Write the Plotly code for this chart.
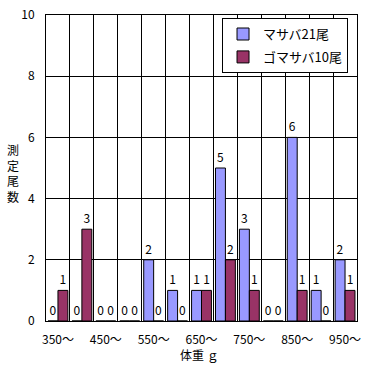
import plotly.graph_objects as go

categories = ["350～", "400～", "450～", "500～", "550～", "600～", "650～",
              "700～", "750～", "800～", "850～", "900～", "950～"]
masaba = [0, 0, 0, 0, 2, 1, 1, 5, 3, 0, 6, 1, 2]
gomasaba = [1, 3, 0, 0, 0, 0, 1, 2, 1, 0, 1, 0, 1]
series_names = ["マサバ21尾", "ゴマサバ10尾"]
y_ticks = [0, 2, 4, 6, 8, 10]
y_title = "測<br>定<br>尾<br>数"
x_title = "体重 ｇ"

x = list(range(len(categories)))
FONT = "Noto Sans CJK JP"

fig = go.Figure()
fig.add_trace(go.Bar(
    x=x, y=masaba, name=series_names[0], legendgroup="a",
    marker=dict(color="#9999FF", line=dict(color="black", width=1)),
    text=[str(v) for v in masaba], textposition="outside",
    textfont=dict(size=12, color="black", family=FONT), cliponaxis=False,
    hoverinfo="skip",
))
fig.add_trace(go.Bar(
    x=x, y=gomasaba, name=series_names[1], legendgroup="b",
    marker=dict(color="#993366", line=dict(color="black", width=1)),
    text=[str(v) for v in gomasaba], textposition="outside",
    textfont=dict(size=12, color="black", family=FONT), cliponaxis=False,
    hoverinfo="skip",
))

annots = [
    dict(text=y_title, xref="paper", yref="paper",
         x=-0.106, y=0.485, xanchor="center", yanchor="middle",
         showarrow=False, font=dict(size=12, family=FONT)),
    dict(text=x_title, xref="paper", yref="paper",
         x=0.492, y=-0.108, xanchor="center", yanchor="middle",
         showarrow=False, font=dict(size=12, family=FONT)),
]

fig.update_layout(
    width=375, height=366,
    margin=dict(l=46, r=18, t=15, b=45, autoexpand=False),
    paper_bgcolor="white", plot_bgcolor="white",
    font=dict(family=FONT, size=12, color="black"),
    barmode="group", bargap=0.17, bargroupgap=0,
    showlegend=True,
    legend=dict(
        x=0.566, y=0.99, xanchor="left", yanchor="top",
        bgcolor="white", bordercolor="black", borderwidth=1,
        font=dict(size=13, family=FONT), tracegroupgap=3,
    ),
    xaxis=dict(
        range=[-0.5, len(categories) - 0.5], automargin=False,
        tickmode="array", tickvals=x[::2], ticktext=categories[::2],
        showgrid=False, ticks="outside", ticklen=8, tickcolor="rgba(0,0,0,0)",
        showline=True, linecolor="black", linewidth=1, mirror=True,
        minor=dict(tick0=-0.5, dtick=1, showgrid=True, gridcolor="black", gridwidth=1),
        zeroline=False, fixedrange=True,
    ),
    yaxis=dict(
        range=[0, 10], tickmode="array", tickvals=y_ticks, automargin=False,
        showgrid=True, gridcolor="black", gridwidth=1,
        ticks="outside", ticklen=8, tickcolor="rgba(0,0,0,0)",
        showline=True, linecolor="black", linewidth=1, mirror=True,
        zeroline=False, fixedrange=True,
    ),
    annotations=annots,
)

# remove the default 8px page margin so the figure fills the window exactly
fig.write_html("out.html", config={"displayModeBar": False},
               post_script="document.body.style.margin='0';")
